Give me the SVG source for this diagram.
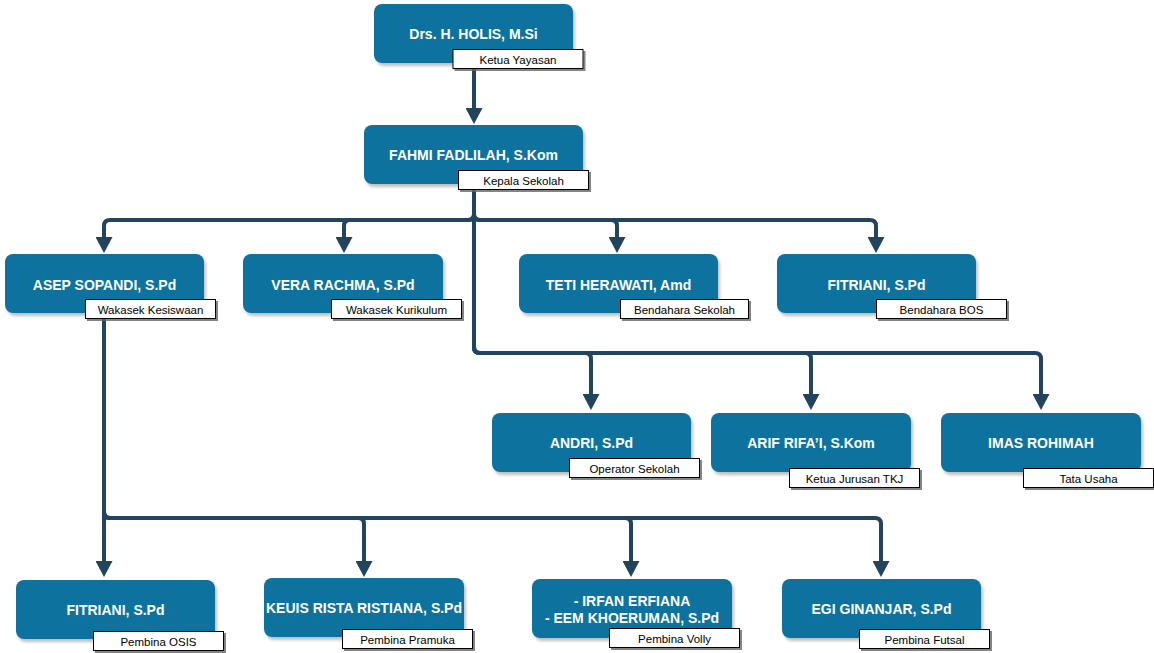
<svg xmlns="http://www.w3.org/2000/svg" width="1154" height="653" viewBox="0 0 1154 653">
<defs>
<filter id="sh" x="-10%" y="-10%" width="130%" height="140%"><feDropShadow dx="2" dy="3" stdDeviation="1.5" flood-color="#000" flood-opacity="0.25"/></filter>
<filter id="lsh" x="-5%" y="-10%" width="115%" height="140%"><feDropShadow dx="2" dy="2" stdDeviation="0.3" flood-color="#666" flood-opacity="0.8"/></filter>
<marker id="ar" markerUnits="userSpaceOnUse" markerWidth="17" markerHeight="17" viewBox="0 0 17 17" refX="1" refY="8.5" orient="auto"><path d="M0,0 L16,8.5 L0,17 Z" fill="#23445d"/></marker>
</defs>
<style>
.n{fill:#10739e;filter:url(#sh)}
.t{font-family:"Liberation Sans",Arial,sans-serif;font-weight:bold;font-size:14px;fill:#fff;text-anchor:middle}
.lb{fill:#fff;stroke:#000;stroke-width:1;filter:url(#lsh)}
.lt{font-family:"Liberation Sans",Arial,sans-serif;font-size:11.5px;fill:#000;text-anchor:middle}
.c{fill:none;stroke:#23445d;stroke-width:4;stroke-linejoin:round}
.ca{fill:none;stroke:#23445d;stroke-width:4;marker-end:url(#ar)}
</style>
<rect width="1154" height="653" fill="#fff"/>
<g id="connectors">
<path class="ca" d="M474,69 V109"/>
<path class="c" d="M474,190 V347"/>
<path class="ca" d="M474,214 Q474,220 468,220 H110 Q104,220 104,226 V238"/>
<path class="ca" d="M474,214 Q474,220 468,220 H350 Q344,220 344,226 V238"/>
<path class="ca" d="M474,214 Q474,220 480,220 H611 Q617,220 617,226 V238"/>
<path class="ca" d="M474,214 Q474,220 480,220 H870 Q876,220 876,226 V238"/>
<path class="ca" d="M474,347 Q474,353 480,353 H585 Q591,353 591,359 V395"/>
<path class="ca" d="M474,347 Q474,353 480,353 H805 Q811,353 811,359 V395"/>
<path class="ca" d="M474,347 Q474,353 480,353 H1035 Q1041,353 1041,359 V395"/>
<path class="ca" d="M104,319 V562"/>
<path class="ca" d="M104,512 Q104,518 110,518 H358 Q364,518 364,524 V562"/>
<path class="ca" d="M104,512 Q104,518 110,518 H625 Q631,518 631,524 V562"/>
<path class="ca" d="M104,512 Q104,518 110,518 H875 Q881,518 881,524 V562"/>
</g>
<g id="n1"><rect class="n" x="374" y="4" width="199" height="59" rx="8"/><text class="t" x="473.5" y="39">Drs. H. HOLIS, M.Si</text><rect class="lb" x="453" y="49.5" width="130" height="19"/><text class="lt" x="518" y="64">Ketua Yayasan</text></g>
<g id="n2"><rect class="n" x="364" y="125" width="219" height="59" rx="8"/><text class="t" x="473.5" y="160">FAHMI FADLILAH, S.Kom</text><rect class="lb" x="458.5" y="170.5" width="130" height="19"/><text class="lt" x="523.5" y="185">Kepala Sekolah</text></g>
<g id="n3"><rect class="n" x="5" y="254" width="199" height="59" rx="8"/><text class="t" x="104.5" y="290">ASEP SOPANDI, S.Pd</text><rect class="lb" x="85.5" y="299.5" width="130" height="19"/><text class="lt" x="150.5" y="314">Wakasek Kesiswaan</text></g>
<g id="n4"><rect class="n" x="243" y="254" width="200" height="59" rx="8"/><text class="t" x="343" y="290">VERA RACHMA, S.Pd</text><rect class="lb" x="331.5" y="299.5" width="130" height="19"/><text class="lt" x="396.5" y="314">Wakasek Kurikulum</text></g>
<g id="n5"><rect class="n" x="519" y="254" width="199" height="59" rx="8"/><text class="t" x="618.5" y="290">TETI HERAWATI, Amd</text><rect class="lb" x="620.5" y="299.5" width="128" height="19"/><text class="lt" x="684.5" y="314">Bendahara Sekolah</text></g>
<g id="n6"><rect class="n" x="777" y="254" width="199" height="59" rx="8"/><text class="t" x="876.5" y="290">FITRIANI, S.Pd</text><rect class="lb" x="876.5" y="299.5" width="130" height="19"/><text class="lt" x="941.5" y="314">Bendahara BOS</text></g>
<g id="n7"><rect class="n" x="492" y="413" width="199" height="59" rx="8"/><text class="t" x="591.5" y="448">ANDRI, S.Pd</text><rect class="lb" x="569.5" y="458.5" width="130" height="19"/><text class="lt" x="634.5" y="473">Operator Sekolah</text></g>
<g id="n8"><rect class="n" x="711" y="413" width="200" height="59" rx="8"/><text class="t" x="811" y="448">ARIF RIFA’I, S.Kom</text><rect class="lb" x="789.5" y="468.5" width="130" height="19"/><text class="lt" x="854.5" y="483">Ketua Jurusan TKJ</text></g>
<g id="n9"><rect class="n" x="941" y="413" width="200" height="59" rx="8"/><text class="t" x="1041" y="448">IMAS ROHIMAH</text><rect class="lb" x="1023.5" y="468.5" width="130" height="19"/><text class="lt" x="1088.5" y="483">Tata Usaha</text></g>
<g id="n10"><rect class="n" x="16" y="580" width="199" height="59" rx="8"/><text class="t" x="115.5" y="615">FITRIANI, S.Pd</text><rect class="lb" x="93.5" y="631.5" width="130" height="19"/><text class="lt" x="158.5" y="646">Pembina OSIS</text></g>
<g id="n11"><rect class="n" x="264" y="578" width="200" height="59" rx="8"/><text class="t" x="364" y="613">KEUIS RISTA RISTIANA, S.Pd</text><rect class="lb" x="342.5" y="629.5" width="130" height="19"/><text class="lt" x="407.5" y="644">Pembina Pramuka</text></g>
<g id="n12"><rect class="n" x="532" y="579" width="200" height="59" rx="8"/><text class="t" x="632" y="606">- IRFAN ERFIANA</text><text class="t" x="632" y="623">- EEM KHOERUMAN, S.Pd</text><rect class="lb" x="609.5" y="628.5" width="130" height="19"/><text class="lt" x="674.5" y="643">Pembina Volly</text></g>
<g id="n13"><rect class="n" x="782" y="579" width="199" height="59" rx="8"/><text class="t" x="881.5" y="614">EGI GINANJAR, S.Pd</text><rect class="lb" x="859.5" y="629.5" width="130" height="19"/><text class="lt" x="924.5" y="644">Pembina Futsal</text></g>
</svg>
